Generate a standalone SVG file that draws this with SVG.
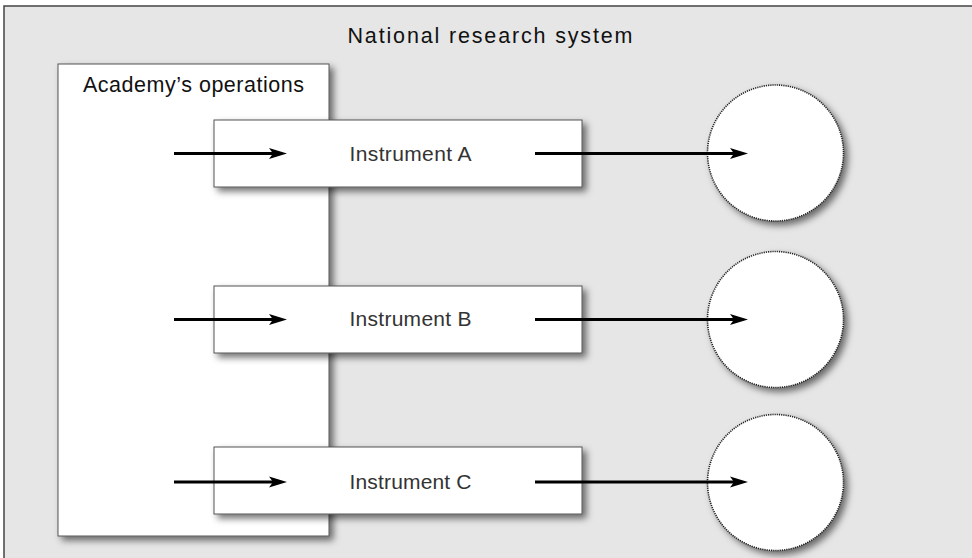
<svg xmlns="http://www.w3.org/2000/svg" width="972" height="558" viewBox="0 0 972 558">
  <defs>
    <filter id="shadow" x="-20%" y="-20%" width="150%" height="150%">
      <feDropShadow dx="4" dy="4" stdDeviation="3.5" flood-color="#000" flood-opacity="0.55"/>
    </filter>
    <marker id="arrow" markerUnits="userSpaceOnUse" markerWidth="18" markerHeight="11" refX="6" refY="5.5" orient="auto" overflow="visible">
      <path d="M0,0 L18,5.5 L0,11 L4,5.5 Z" fill="#000"/>
    </marker>
    <style>
      .frame { fill: #e6e6e6; stroke: #444; stroke-width: 1.5; }
      .box { fill: #fff; stroke: #555; stroke-width: 1; filter: url(#shadow); }
      .circ { fill: #fff; stroke: #222; stroke-width: 1.6; stroke-dasharray: 1.2 1; filter: url(#shadow); }
      .lbl { font-family: "Liberation Sans", Arial, sans-serif; font-size: 21.5px; fill: #111; text-anchor: middle; }
      .ilbl { font-family: "Liberation Sans", Arial, sans-serif; font-size: 21px; fill: #333; text-anchor: middle; }
      .conn { stroke: #000; stroke-width: 3.2; fill: none; marker-end: url(#arrow); }
    </style>
  </defs>

  <g id="national-research-system">
    <rect class="frame" x="4" y="6" width="990" height="570"/>
    <text class="lbl" x="490" y="42.5" textLength="285" lengthAdjust="spacing">National research system</text>
  </g>

  <g id="academy-operations">
    <rect class="box" x="58" y="64" width="271" height="472"/>
    <text class="lbl" x="193.5" y="92" textLength="221" lengthAdjust="spacing">Academy’s operations</text>
  </g>

  <g id="instrument-a">
    <rect class="box" x="214" y="120" width="368" height="67"/>
    <text class="ilbl" x="410.5" y="161" textLength="122" lengthAdjust="spacing">Instrument A</text>
  </g>
  <g id="instrument-b">
    <rect class="box" x="214" y="286" width="368" height="67"/>
    <text class="ilbl" x="410.5" y="325.5" textLength="122" lengthAdjust="spacing">Instrument B</text>
  </g>
  <g id="instrument-c">
    <rect class="box" x="214" y="447" width="368" height="67"/>
    <text class="ilbl" x="410.5" y="488.5" textLength="122" lengthAdjust="spacing">Instrument C</text>
  </g>

  <g id="outcome-a">
    <circle class="circ" cx="775.5" cy="153" r="68"/>
  </g>
  <g id="outcome-b">
    <circle class="circ" cx="775.5" cy="319.5" r="68"/>
  </g>
  <g id="outcome-c">
    <circle class="circ" cx="775.5" cy="482.5" r="68"/>
  </g>

  <g id="connectors">
    <line class="conn" x1="174" y1="153.5" x2="275" y2="153.5"/>
    <line class="conn" x1="535" y1="153.5" x2="736" y2="153.5"/>
    <line class="conn" x1="174" y1="319.5" x2="275" y2="319.5"/>
    <line class="conn" x1="535" y1="319.5" x2="736" y2="319.5"/>
    <line class="conn" x1="174" y1="482" x2="275" y2="482"/>
    <line class="conn" x1="535" y1="482" x2="736" y2="482"/>
  </g>
</svg>
